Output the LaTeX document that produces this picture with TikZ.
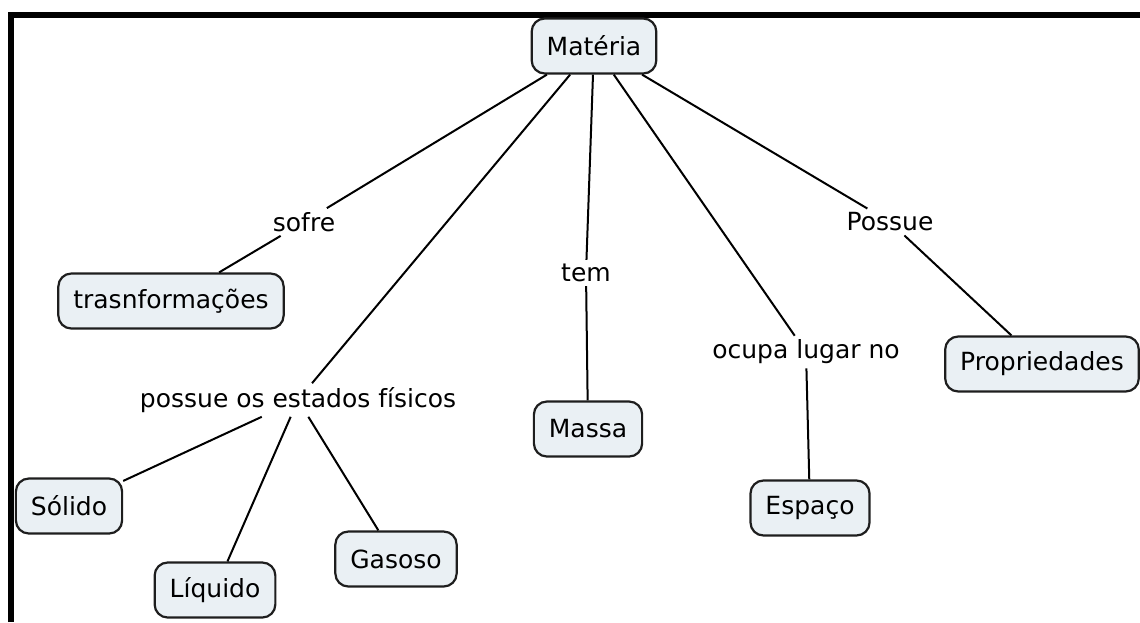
\documentclass[tikz,border=0pt]{standalone}
\usepackage{fontspec}
\setmainfont{DejaVu Sans}
\definecolor{conceptfill}{HTML}{EAF0F4}
\definecolor{conceptline}{HTML}{1E1E1E}
\tikzset{
	concept/.style={draw=conceptline, fill=conceptfill, line width=2.2pt, rounded corners=13pt,
		minimum height=55pt, inner xsep=15pt, font=\fontsize{25}{29}\selectfont},
	linkword/.style={inner xsep=2pt, inner ysep=4pt, font=\fontsize{25}{29}\selectfont},
	link/.style={line width=2pt, black}
}
\begin{document}
\begin{tikzpicture}[x=1pt, y=-1pt]
		\useasboundingbox (0,0) rectangle (1140,622);

		% Draw frame
		\draw[line width=6pt] (10.5,622) -- (10.5,15) -- (1140,15);

		% Draw concepts
		\node[concept] (materia) at (594,46) {Matéria};
		\node[concept] (transf) at (171,301) {trasnformações};
		\node[concept] (massa) at (588,429) {Massa};
		\node[concept] (espaco) at (810,508) {Espaço};
		\node[concept] (propr) at (1042,364) {Propriedades};
		\node[concept] (solido) at (69,506) {Sólido};
		\node[concept] (liquido) at (215,590) {Líquido};
		\node[concept] (gasoso) at (396,559) {Gasoso};

		% Draw linking words
		\node[linkword] (sofre) at (304,222) {sofre};
		\node[linkword] (estados) at (298,400) {possue os estados físicos};
		\node[linkword] (tem) at (586,273) {tem};
		\node[linkword] (ocupa) at (806,352) {ocupa lugar no};
		\node[linkword] (possue) at (890,222) {Possue};

		% Draw links
		\draw[link] (materia) -- (sofre) -- (transf);
		\draw[link] (materia) -- (estados);
		\draw[link] (estados) -- (solido);
		\draw[link] (estados) -- (liquido);
		\draw[link] (estados) -- (gasoso);
		\draw[link] (materia) -- (tem) -- (massa);
		\draw[link] (materia) -- (ocupa) -- (espaco);
		\draw[link] (materia) -- (possue) -- (propr);
	\end{tikzpicture}
\end{document}
